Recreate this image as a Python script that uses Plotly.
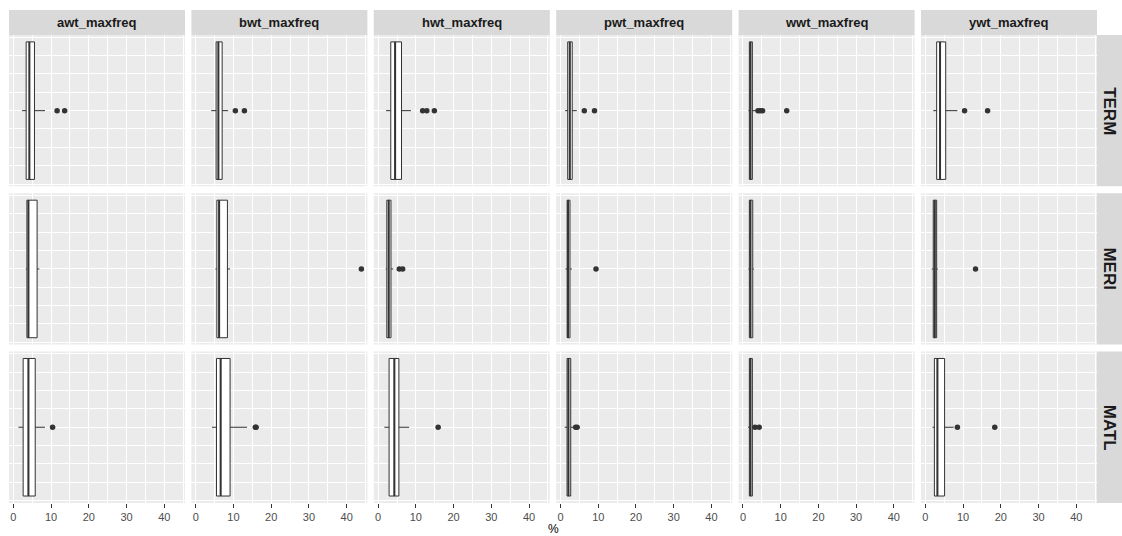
import plotly.graph_objects as go

# Facet layout: one column per variable, one row per region
variables = ["awt_maxfreq", "bwt_maxfreq", "hwt_maxfreq", "pwt_maxfreq", "wwt_maxfreq", "ywt_maxfreq"]
regions = ["TERM", "MERI", "MATL"]

# Box statistics (%), rows follow `regions`, columns follow `variables`
lower_whisker = [
    [2.3, 4.1, 2.1, 1.2, 1.45, 2.1],
    [3.3, 5.2, 2.0, 1.3, 1.45, 1.7],
    [1.35, 4.3, 1.65, 1.1, 1.35, 1.9],
]
q1 = [
    [3.4, 5.4, 3.35, 1.9, 1.7, 3.0],
    [3.6, 5.6, 2.3, 1.75, 1.7, 2.1],
    [2.6, 5.5, 2.9, 1.73, 1.7, 2.4],
]
median = [
    [4.25, 6.0, 4.5, 2.45, 2.0, 3.9],
    [4.0, 6.2, 2.8, 2.0, 2.0, 2.5],
    [4.0, 6.6, 4.3, 2.1, 2.0, 3.2],
]
q3 = [
    [5.6, 7.0, 6.2, 3.1, 2.5, 5.4],
    [6.3, 8.4, 3.4, 2.5, 2.6, 3.0],
    [5.8, 9.1, 5.5, 2.7, 2.5, 5.1],
]
upper_whisker = [
    [8.4, 8.6, 8.7, 4.3, 3.5, 8.5],
    [6.9, 9.1, 4.0, 3.0, 2.9, 3.3],
    [8.4, 13.6, 8.2, 3.7, 2.8, 7.5],
]
outliers = [
    [[11.6, 13.6], [10.5, 12.9], [11.8, 12.9, 14.9], [6.3, 9.0], [4.0, 4.6, 5.2, 11.6], [10.4, 16.5]],
    [[], [43.9], [5.6, 6.5], [9.4], [], [13.3]],
    [[10.4], [15.8, 16.0], [15.9], [4.0, 4.4], [3.2, 4.3], [8.5, 18.4]],
]
x_ticks = [0, 10, 20, 30, 40]

W, H = 1122, 536
PANEL_LEFT, PANEL_W, PANEL_PITCH = 9, 176, 182.4
PANEL_TOP, PANEL_H, ROW_PITCH = 35, 151.3, 158.3
STRIP_H = 25
BOX_HALF = 0.375

INK = "#333333"
PANEL_BG = "#EBEBEB"
STRIP_BG = "#D9D9D9"

fig = go.Figure()
shapes = []
annotations = []


def px_x(v):
    return v / W


def px_y(v):
    return 1 - v / H


for r, region in enumerate(regions):
    top = PANEL_TOP + r * ROW_PITCH
    bottom = top + PANEL_H
    for c, var in enumerate(variables):
        idx = r * len(variables) + c + 1
        xa = "x" if idx == 1 else f"x{idx}"
        ya = "y" if idx == 1 else f"y{idx}"
        left = PANEL_LEFT + c * PANEL_PITCH
        right = left + PANEL_W

        fig.add_trace(go.Box(
            orientation="h",
            y=[0],
            q1=[q1[r][c]], median=[median[r][c]], q3=[q3[r][c]],
            lowerfence=[lower_whisker[r][c]], upperfence=[upper_whisker[r][c]],
            width=2 * BOX_HALF,
            fillcolor="white",
            line=dict(color=INK, width=1),
            whiskerwidth=0,
            boxpoints=False,
            hoverinfo="skip",
            showlegend=False,
            xaxis=xa, yaxis=ya,
        ))
        # thicker median bar
        fig.add_trace(go.Scatter(
            x=[median[r][c], median[r][c]], y=[-BOX_HALF, BOX_HALF],
            mode="lines", line=dict(color=INK, width=2),
            hoverinfo="skip", showlegend=False, xaxis=xa, yaxis=ya,
        ))
        if outliers[r][c]:
            fig.add_trace(go.Scatter(
                x=outliers[r][c], y=[0] * len(outliers[r][c]),
                mode="markers", marker=dict(color=INK, size=5.5),
                hoverinfo="skip", showlegend=False, xaxis=xa, yaxis=ya,
            ))

        bottom_row = r == len(regions) - 1
        fig.layout[f"xaxis{'' if idx == 1 else idx}"] = dict(
            domain=[px_x(left), px_x(right)],
            anchor=ya,
            range=[-1.15, 45.5],
            tickvals=x_ticks,
            showticklabels=bottom_row,
            ticks="outside" if bottom_row else "",
            ticklen=4, tickwidth=1, tickcolor=INK,
            tickfont=dict(family="Liberation Sans", size=11, color="#4D4D4D"),
            showgrid=True, gridcolor="white", gridwidth=1.1,
            minor=dict(dtick=5, tick0=0, showgrid=True, gridcolor="white", gridwidth=0.5),
            zeroline=False, showline=False, fixedrange=True,
        )
        fig.layout[f"yaxis{'' if idx == 1 else idx}"] = dict(
            domain=[px_y(bottom), px_y(top)],
            anchor=xa,
            range=[-0.4125, 0.4125],
            tickvals=[-0.4, -0.2, 0, 0.2, 0.4],
            showticklabels=False, ticks="",
            showgrid=True, gridcolor="white", gridwidth=1.1,
            minor=dict(tickvals=[-0.3, -0.1, 0.1, 0.3], showgrid=True,
                       gridcolor="white", gridwidth=0.5),
            zeroline=False, showline=False, fixedrange=True,
        )
        # panel background
        shapes.append(dict(type="rect", xref="paper", yref="paper", layer="below",
                           x0=px_x(left), x1=px_x(right), y0=px_y(bottom), y1=px_y(top),
                           fillcolor=PANEL_BG, line=dict(width=0)))

        if r == 0:
            shapes.append(dict(type="rect", xref="paper", yref="paper",
                               x0=px_x(left), x1=px_x(right),
                               y0=px_y(PANEL_TOP), y1=px_y(PANEL_TOP - STRIP_H),
                               fillcolor=STRIP_BG, line=dict(width=0)))
            annotations.append(dict(text=f"<b>{var}</b>", xref="paper", yref="paper",
                                    x=px_x((left + right) / 2), y=px_y(PANEL_TOP - STRIP_H / 2),
                                    showarrow=False, xanchor="center", yanchor="middle",
                                    font=dict(family="Liberation Sans", size=13, color="#1A1A1A")))

    strip_left = PANEL_LEFT + 5 * PANEL_PITCH + PANEL_W
    shapes.append(dict(type="rect", xref="paper", yref="paper",
                       x0=px_x(strip_left), x1=1.0, y0=px_y(bottom), y1=px_y(top),
                       fillcolor=STRIP_BG, line=dict(width=0)))
    annotations.append(dict(text=f"<b>{region}</b>", xref="paper", yref="paper",
                            x=px_x(strip_left + 12.5), y=px_y((top + bottom) / 2),
                            showarrow=False, textangle=90, xanchor="center", yanchor="middle",
                            font=dict(family="Liberation Sans", size=17, color="#1A1A1A")))

# shared x-axis title
annotations.append(dict(text="%", xref="paper", yref="paper",
                        x=px_x((PANEL_LEFT + PANEL_LEFT + 5 * PANEL_PITCH + PANEL_W) / 2),
                        y=px_y(528.5), showarrow=False, xanchor="center", yanchor="middle",
                        font=dict(family="Liberation Sans", size=12, color="black")))

fig.update_layout(
    width=W, height=H,
    margin=dict(l=0, r=0, t=0, b=0),
    paper_bgcolor="white", plot_bgcolor="rgba(0,0,0,0)",
    shapes=shapes, annotations=annotations,
    showlegend=False, hovermode=False,
)

fig.write_html("out.html")
